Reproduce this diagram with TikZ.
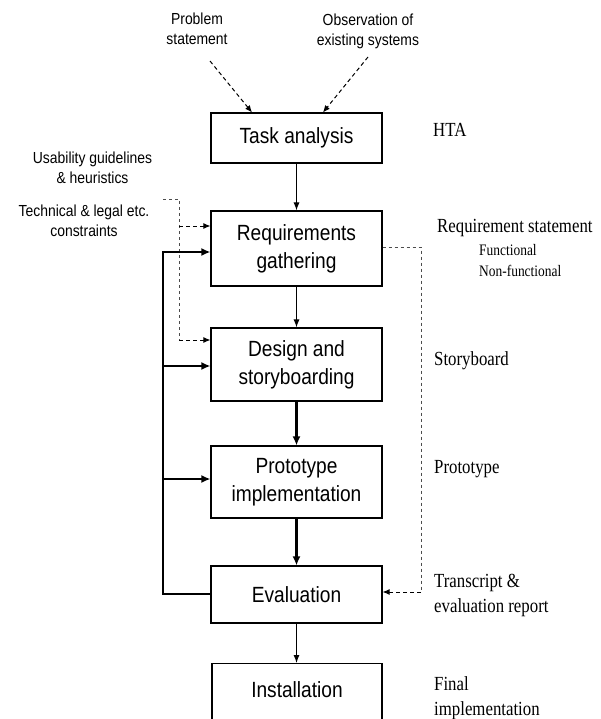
\documentclass[tikz,border=0pt]{standalone}
\usepackage{fontspec}
\setmainfont{Liberation Serif}[FakeStretch=0.84]
\setsansfont{Liberation Sans}[FakeStretch=0.87]
\usetikzlibrary{arrows.meta,calc}
\begin{document}
\begin{tikzpicture}[x=1pt,y=-1pt,
  box/.style={draw,line width=1.1pt,minimum width=171pt,inner sep=0pt,align=center,font=\sffamily\fontsize{22}{28}\selectfont},
  lab/.style={align=center,inner sep=0pt,font=\sffamily\fontsize{16}{20}\selectfont},
  outlab/.style={anchor=base west,inner sep=0pt,font=\rmfamily\fontsize{20}{25}\selectfont},
  thinarr/.style={line width=1pt,-{Latex[length=8pt,width=6pt]}},
  thickarr/.style={line width=2.2pt,-{Latex[length=9pt,width=8pt]}},
  dsh/.style={line width=1pt,dash pattern=on 4pt off 3pt,-{Latex[length=7pt,width=6pt]}},
  dshg/.style={line width=0.9pt,draw=black!70,dash pattern=on 3pt off 3pt},
]
\useasboundingbox (0,0) rectangle (600,719);
\clip (0,0) rectangle (600,719);

% main boxes
\node[box,minimum height=50pt] (ta) at (296.5,138) {Task analysis};
\node[box,minimum height=75pt] (req) at (296.5,248.5) {Requirements\\gathering};
\node[box,minimum height=73pt] (des) at (296.5,364.5) {Design and\\storyboarding};
\node[box,minimum height=72pt] (pro) at (296.5,482) {Prototype\\implementation};
\node[box,minimum height=57pt] (ev) at (296.5,594.5) {Evaluation};
\node[box,minimum width=170pt,anchor=north,text height=24pt,text depth=30pt,inner ysep=10pt] (ins) at (297,663) {Installation};

% input labels
\node[lab] (ps) at (197,29) {Problem\\statement};
\node[lab] (obs) at (368,31) {Observation of\\existing systems};
\node[lab] (ug) at (92.5,168) {Usability guidelines\\\& heuristics};
\node[lab] (tc) at (84,221) {Technical \& legal etc.\\constraints};

% output labels
\node[outlab] (hta) at (433,137) {HTA};
\node[outlab] (rs) at (437,233) {Requirement statement};
\node[outlab,font=\rmfamily\fontsize{16}{21}\selectfont] (fn) at (479,255) {\begin{tabular}[t]{@{}l@{}}Functional\\Non-functional\end{tabular}};
\node[outlab] (sb) at (434,365) {Storyboard};
\node[outlab] (pt) at (434,473) {Prototype};
\node[outlab] (tr) at (434,587) {\begin{tabular}[t]{@{}l@{}}Transcript \&\\evaluation report\end{tabular}};
\node[outlab] (fi) at (434,690) {\begin{tabular}[t]{@{}l@{}}Final\\implementation\end{tabular}};

% main flow
\draw[thinarr] (ta) -- (req);
\draw[thinarr] (req) -- (des);
\draw[thickarr] (des) -- (pro);
\draw[thickarr] (pro) -- (ev);
\draw[thinarr] (ev.south) -- (ev.south |- ins.north);

% dashed inputs to task analysis
\coordinate (psA) at (210,61);
\coordinate (obsA) at (368,57);
\draw[dsh] (psA) -- ($(ta.north)+(-44.5,0)$);
\draw[dsh] (obsA) -- ($(ta.north)+(26.5,0)$);

% dashed constraints input
\coordinate (tcA) at (163,199);
\coordinate (tcB) at (179,199);
\coordinate (tcC) at (179,226);
\coordinate (tcD) at (179,340);
\draw[dshg] (tcA) -- (tcB) -- (tcD);
\draw[dsh] (tcC) -- (tcC -| req.west);
\draw[dsh] (tcD) -- (tcD -| des.west);

% dashed requirement feed to evaluation
\coordinate (rA) at (421,247);
\coordinate (rB) at (421,592);
\draw[dshg] (req.east |- rA) -- (rA) -- (rB);
\draw[dsh] (rB) -- (rB -| ev.east);

% feedback loop
\coordinate (fbB) at (163,594);
\coordinate (fbT) at (163,252);
\coordinate (fbD) at (163,366);
\coordinate (fbP) at (163,479);
\draw[thickarr] (ev.west |- fbB) -- (fbB) -- (fbT) -- (fbT -| req.west);
\draw[thickarr] (fbD) -- (fbD -| des.west);
\draw[thickarr] (fbP) -- (fbP -| pro.west);
\end{tikzpicture}
\end{document}
